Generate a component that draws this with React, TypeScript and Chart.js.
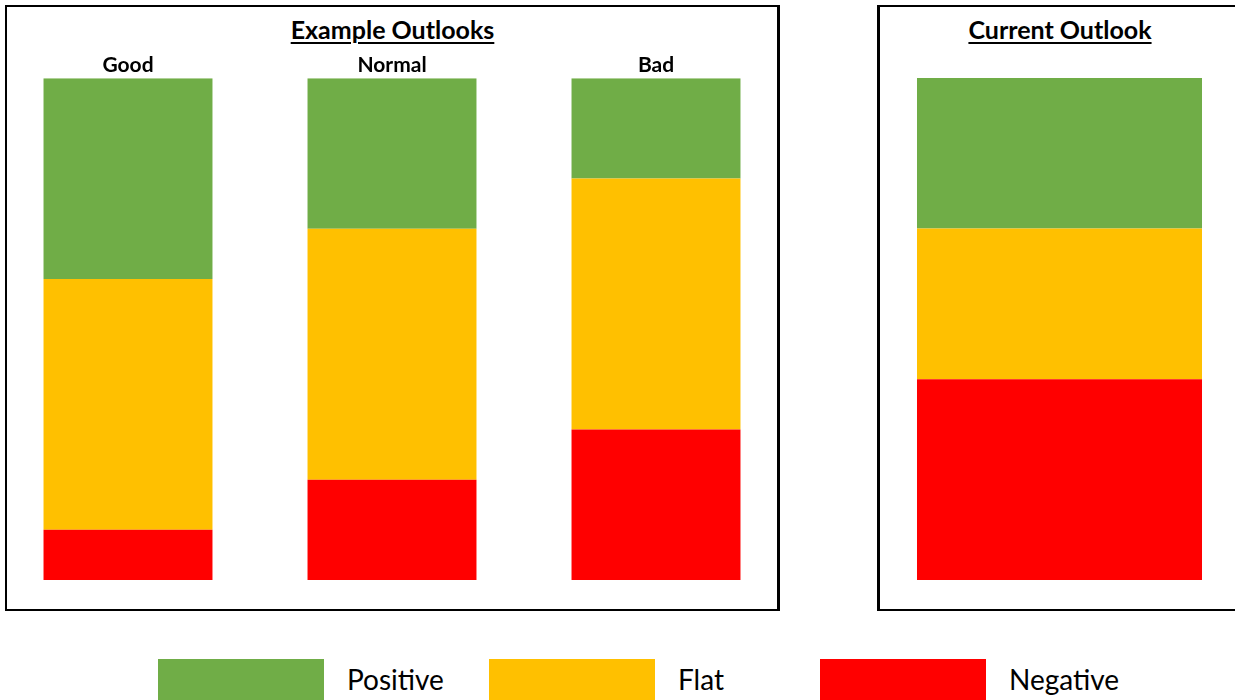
import React, { useEffect, useRef } from 'react';
import { Chart, registerables } from 'chart.js';

Chart.register(...registerables);

// ---- Data ----
const exampleCategories = ['Good', 'Normal', 'Bad'];
const exampleNegative = [1, 2, 3];
const exampleFlat = [5, 5, 5];
const examplePositive = [4, 3, 2];

const currentCategories = [''];
const currentNegative = [4];
const currentFlat = [3];
const currentPositive = [3];

const seriesNames = ['Negative', 'Flat', 'Positive'];
const seriesColors = ['#FF0000', '#FFC000', '#70AD47'];
const legendOrder = ['Positive', 'Flat', 'Negative'];
const yMax = 10;

const FONT = 'Lato, "Noto Sans", sans-serif';

function buildConfig(
  labels: string[],
  neg: number[],
  flat: number[],
  pos: number[],
  showX: boolean,
  barPct: number,
  padding: any
): any {
  const values = [neg, flat, pos];
  return {
    type: 'bar',
    data: {
      labels,
      datasets: seriesNames.map((name, i) => ({
        label: name,
        data: values[i],
        backgroundColor: seriesColors[i],
        borderWidth: 0,
        barPercentage: barPct,
        categoryPercentage: 1,
      })),
    },
    options: {
      responsive: false,
      animation: false,
      devicePixelRatio: 1,
      layout: { padding },
      plugins: {
        legend: { display: false },
        tooltip: { enabled: false },
        title: { display: false },
      },
      scales: {
        x: {
          stacked: true,
          position: 'top',
          display: showX,
          grid: { display: false, drawTicks: false },
          border: { display: false },
          ticks: {
            color: '#000',
            padding: 0,
            font: { family: FONT, weight: 'bold', size: 21 },
          },
        },
        y: {
          stacked: true,
          min: 0,
          max: yMax,
          display: false,
        },
      },
    },
  };
}

export default function App() {
  const leftRef = useRef<HTMLCanvasElement>(null);
  const rightRef = useRef<HTMLCanvasElement>(null);

  useEffect(() => {
    const left = new Chart(
      leftRef.current as HTMLCanvasElement,
      buildConfig(exampleCategories, exampleNegative, exampleFlat, examplePositive, true, 0.64, {
        top: 13,
        bottom: 0,
        left: 0,
        right: 0,
      })
    );
    const right = new Chart(
      rightRef.current as HTMLCanvasElement,
      buildConfig(currentCategories, currentNegative, currentFlat, currentPositive, false, 0.812, {
        top: 38,
        bottom: 0,
        left: 4,
        right: 0,
      })
    );
    return () => {
      left.destroy();
      right.destroy();
    };
  }, []);

  const titleStyle: React.CSSProperties = {
    position: 'fixed',
    top: 14,
    fontFamily: FONT,
    fontWeight: 'bold',
    fontSize: 25,
    lineHeight: 'normal',
    textAlign: 'center',
    textDecoration: 'underline',
    textDecorationThickness: '2px',
    textUnderlineOffset: '3px',
    color: '#000',
  };

  return (
    <div style={{ position: 'fixed', left: 0, top: 0, width: 1235, height: 700, background: '#fff', overflow: 'hidden' }}>
      {/* panels */}
      <div
        style={{
          position: 'fixed',
          left: 5,
          top: 5,
          width: 775,
          height: 606,
          boxSizing: 'border-box',
          borderTop: '2px solid #000',
          borderLeft: '2px solid #000',
          borderRight: '3px solid #000',
          borderBottom: '2px solid #000',
        }}
      />
      <div
        style={{
          position: 'fixed',
          left: 877,
          top: 5,
          width: 400,
          height: 606,
          boxSizing: 'border-box',
          borderTop: '2px solid #000',
          borderLeft: '3px solid #000',
          borderBottom: '2px solid #000',
        }}
      />
      <div style={{ ...titleStyle, left: 5, width: 775 }}>Example Outlooks</div>
      <div style={{ ...titleStyle, left: 877, width: 366 }}>Current Outlook</div>

      <canvas
        ref={leftRef}
        width={792}
        height={540}
        style={{ position: 'fixed', left: -4, top: 40, width: 792, height: 540, display: 'block' }}
      />
      <canvas
        ref={rightRef}
        width={355}
        height={540}
        style={{ position: 'fixed', left: 880, top: 40, width: 355, height: 540, display: 'block' }}
      />

      {/* legend */}
      {legendOrder.map((name, i) => {
        const color = seriesColors[seriesNames.indexOf(name)];
        const x = 158 + i * 331;
        return (
          <React.Fragment key={name}>
            <div style={{ position: 'fixed', left: x, top: 659, width: 166, height: 45, background: color }} />
            <div
              style={{
                position: 'fixed',
                left: x + 189,
                top: 662,
                fontFamily: FONT,
                fontSize: 28,
                lineHeight: 'normal',
                color: '#000',
                whiteSpace: 'nowrap',
              }}
            >
              {name}
            </div>
          </React.Fragment>
        );
      })}
    </div>
  );
}
